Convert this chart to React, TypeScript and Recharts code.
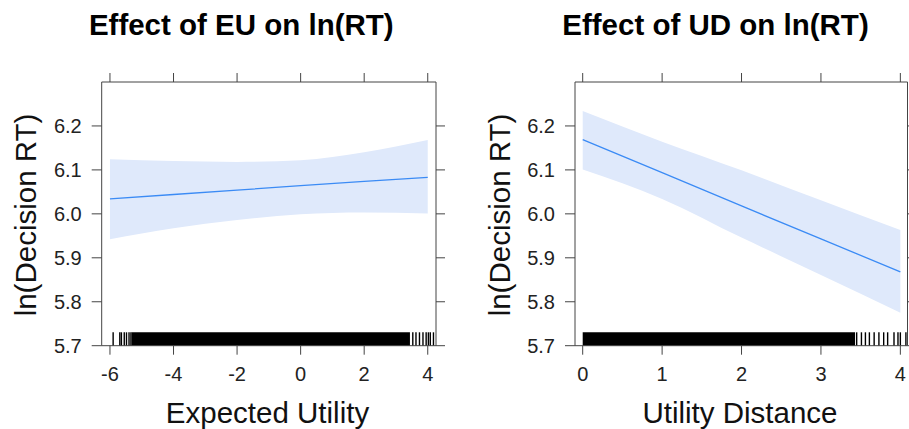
import React from 'react';
import { ComposedChart, Area, Line, XAxis, YAxis, ReferenceArea, ReferenceLine } from 'recharts';

const FONT = '"Liberation Sans", Arial, Helvetica, sans-serif';

// Panel 1: Effect of EU
const euX = [-6, -4, -2, 0, 2, 4];
const euFit = [6.034, 6.044, 6.054, 6.064, 6.074, 6.083];
const euLower = [5.942, 5.967, 5.986, 5.999, 6.003, 6.001];
const euUpper = [6.124, 6.12, 6.118, 6.122, 6.14, 6.168];
const euTicks = [-6, -4, -2, 0, 2, 4];
const euDomain = [-6.26, 4.26];
const euRugDense = [-5.32, 3.44];
const euRugSparse = [-5.9, -5.69, -5.64, -5.55, -5.48, -5.4, -5.34, 3.53, 3.63, 3.74, 3.85, 3.95, 4.02, 4.08, 4.18];

// Panel 2: Effect of UD
const udX = [0, 1, 2, 3, 4];
const udFit = [6.169, 6.094, 6.018, 5.943, 5.868];
const udLower = [6.101, 6.034, 5.946, 5.861, 5.775];
const udUpper = [6.234, 6.164, 6.099, 6.031, 5.963];
const udTicks = [0, 1, 2, 3, 4];
const udDomain = [-0.097, 4.09];
const udRugDense = [0, 3.43];
const udRugSparse = [3.45, 3.51, 3.56, 3.61, 3.67, 3.73, 3.79, 3.84, 3.92, 3.97, 4.0, 4.07];

const yTicks = [5.7, 5.8, 5.9, 6.0, 6.1, 6.2];
const yDomain = [5.7, 6.3];
const rugTop = 5.7305;

const euRows = euX.map((x, i) => ({ x, fit: euFit[i], band: [euLower[i], euUpper[i]] }));
const udRows = udX.map((x, i) => ({ x, fit: udFit[i], band: [udLower[i], udUpper[i]] }));

const AXIS = '#444';
const EmptyTick = () => <g />;

function Panel(props: any) {
  const { rows, xDomain, xTicks, rugDense, rugSparse, width, margin } = props;
  return (
    <ComposedChart width={width} height={429} data={rows} margin={margin}>
      <XAxis
        xAxisId="b"
        type="number"
        dataKey="x"
        domain={xDomain}
        ticks={xTicks}
        allowDataOverflow
        orientation="bottom"
        height={40}
        tickSize={9}
        tickMargin={12}
        interval={0}
        stroke={AXIS}
        tick={{ fontSize: 20, fill: '#222', fontFamily: FONT }}
      />
      <XAxis
        xAxisId="t"
        type="number"
        dataKey="x"
        domain={xDomain}
        ticks={xTicks}
        allowDataOverflow
        orientation="top"
        height={10}
        tickSize={9}
        interval={0}
        stroke={AXIS}
        tick={EmptyTick}
      />
      <YAxis
        yAxisId="l"
        type="number"
        domain={yDomain}
        ticks={yTicks}
        allowDataOverflow
        interval={0}
        width={60}
        tickSize={10}
        tickMargin={10}
        stroke={AXIS}
        tickFormatter={(v: number) => v.toFixed(1)}
        tick={{ fontSize: 20, fill: '#222', fontFamily: FONT }}
      />
      <YAxis
        yAxisId="r"
        orientation="right"
        type="number"
        domain={yDomain}
        ticks={yTicks}
        allowDataOverflow
        interval={0}
        width={12}
        tickSize={9}
        stroke={AXIS}
        tick={EmptyTick}
      />
      <Area
        xAxisId="b"
        yAxisId="l"
        dataKey="band"
        type="monotone"
        fill="#dfe9fb"
        fillOpacity={1}
        stroke="none"
        isAnimationActive={false}
        activeDot={false}
      />
      <Line
        xAxisId="b"
        yAxisId="l"
        dataKey="fit"
        type="linear"
        stroke="#3b8bf5"
        strokeWidth={1.3}
        dot={false}
        activeDot={false}
        isAnimationActive={false}
      />
      <ReferenceArea
        xAxisId="b"
        yAxisId="l"
        x1={rugDense[0]}
        x2={rugDense[1]}
        y1={yDomain[0]}
        y2={rugTop}
        fill="#000"
        fillOpacity={1}
        stroke="none"
      />
      {rugSparse.map((v: number) => (
        <ReferenceLine
          key={v}
          xAxisId="b"
          yAxisId="l"
          segment={[{ x: v, y: yDomain[0] }, { x: v, y: rugTop }]}
          stroke="#000"
          strokeWidth={1.4}
        />
      ))}
    </ComposedChart>
  );
}

export default function App() {
  const titleStyle: any = { fontSize: 29.5, fontWeight: 'bold', fontFamily: FONT, fill: '#000' };
  const labStyle: any = { fontSize: 29.5, fontFamily: FONT, fill: '#111' };
  return (
    <div style={{ position: 'absolute', left: 0, top: 0, width: 909, height: 429, overflow: 'hidden', background: '#fff' }}>
      <div style={{ position: 'absolute', left: 0, top: 0 }}>
        <Panel
          rows={euRows}
          xDomain={euDomain}
          xTicks={euTicks}
          rugDense={euRugDense}
          rugSparse={euRugSparse}
          width={460}
          margin={{ top: 72, right: 12, bottom: 43.3, left: 41.7 }}
        />
      </div>
      <div style={{ position: 'absolute', left: 460, top: 0 }}>
        <Panel
          rows={udRows}
          xDomain={udDomain}
          xTicks={udTicks}
          rugDense={udRugDense}
          rugSparse={udRugSparse}
          width={470}
          margin={{ top: 72, right: 10.5, bottom: 43.3, left: 55 }}
        />
      </div>
      <svg width={909} height={429} style={{ position: 'absolute', left: 0, top: 0, pointerEvents: 'none' }}>
        <text x={241.3} y={35} textAnchor="middle" style={titleStyle}>Effect of EU on ln(RT)</text>
        <text x={715.5} y={35} textAnchor="middle" style={titleStyle}>Effect of UD on ln(RT)</text>
        <text transform="translate(35.5,215) rotate(-90)" textAnchor="middle" style={labStyle}>ln(Decision RT)</text>
        <text transform="translate(509.5,215) rotate(-90)" textAnchor="middle" style={labStyle}>ln(Decision RT)</text>
        <text x={267.5} y={423} textAnchor="middle" style={labStyle}>Expected Utility</text>
        <text x={740} y={423} textAnchor="middle" style={labStyle}>Utility Distance</text>
      </svg>
    </div>
  );
}
